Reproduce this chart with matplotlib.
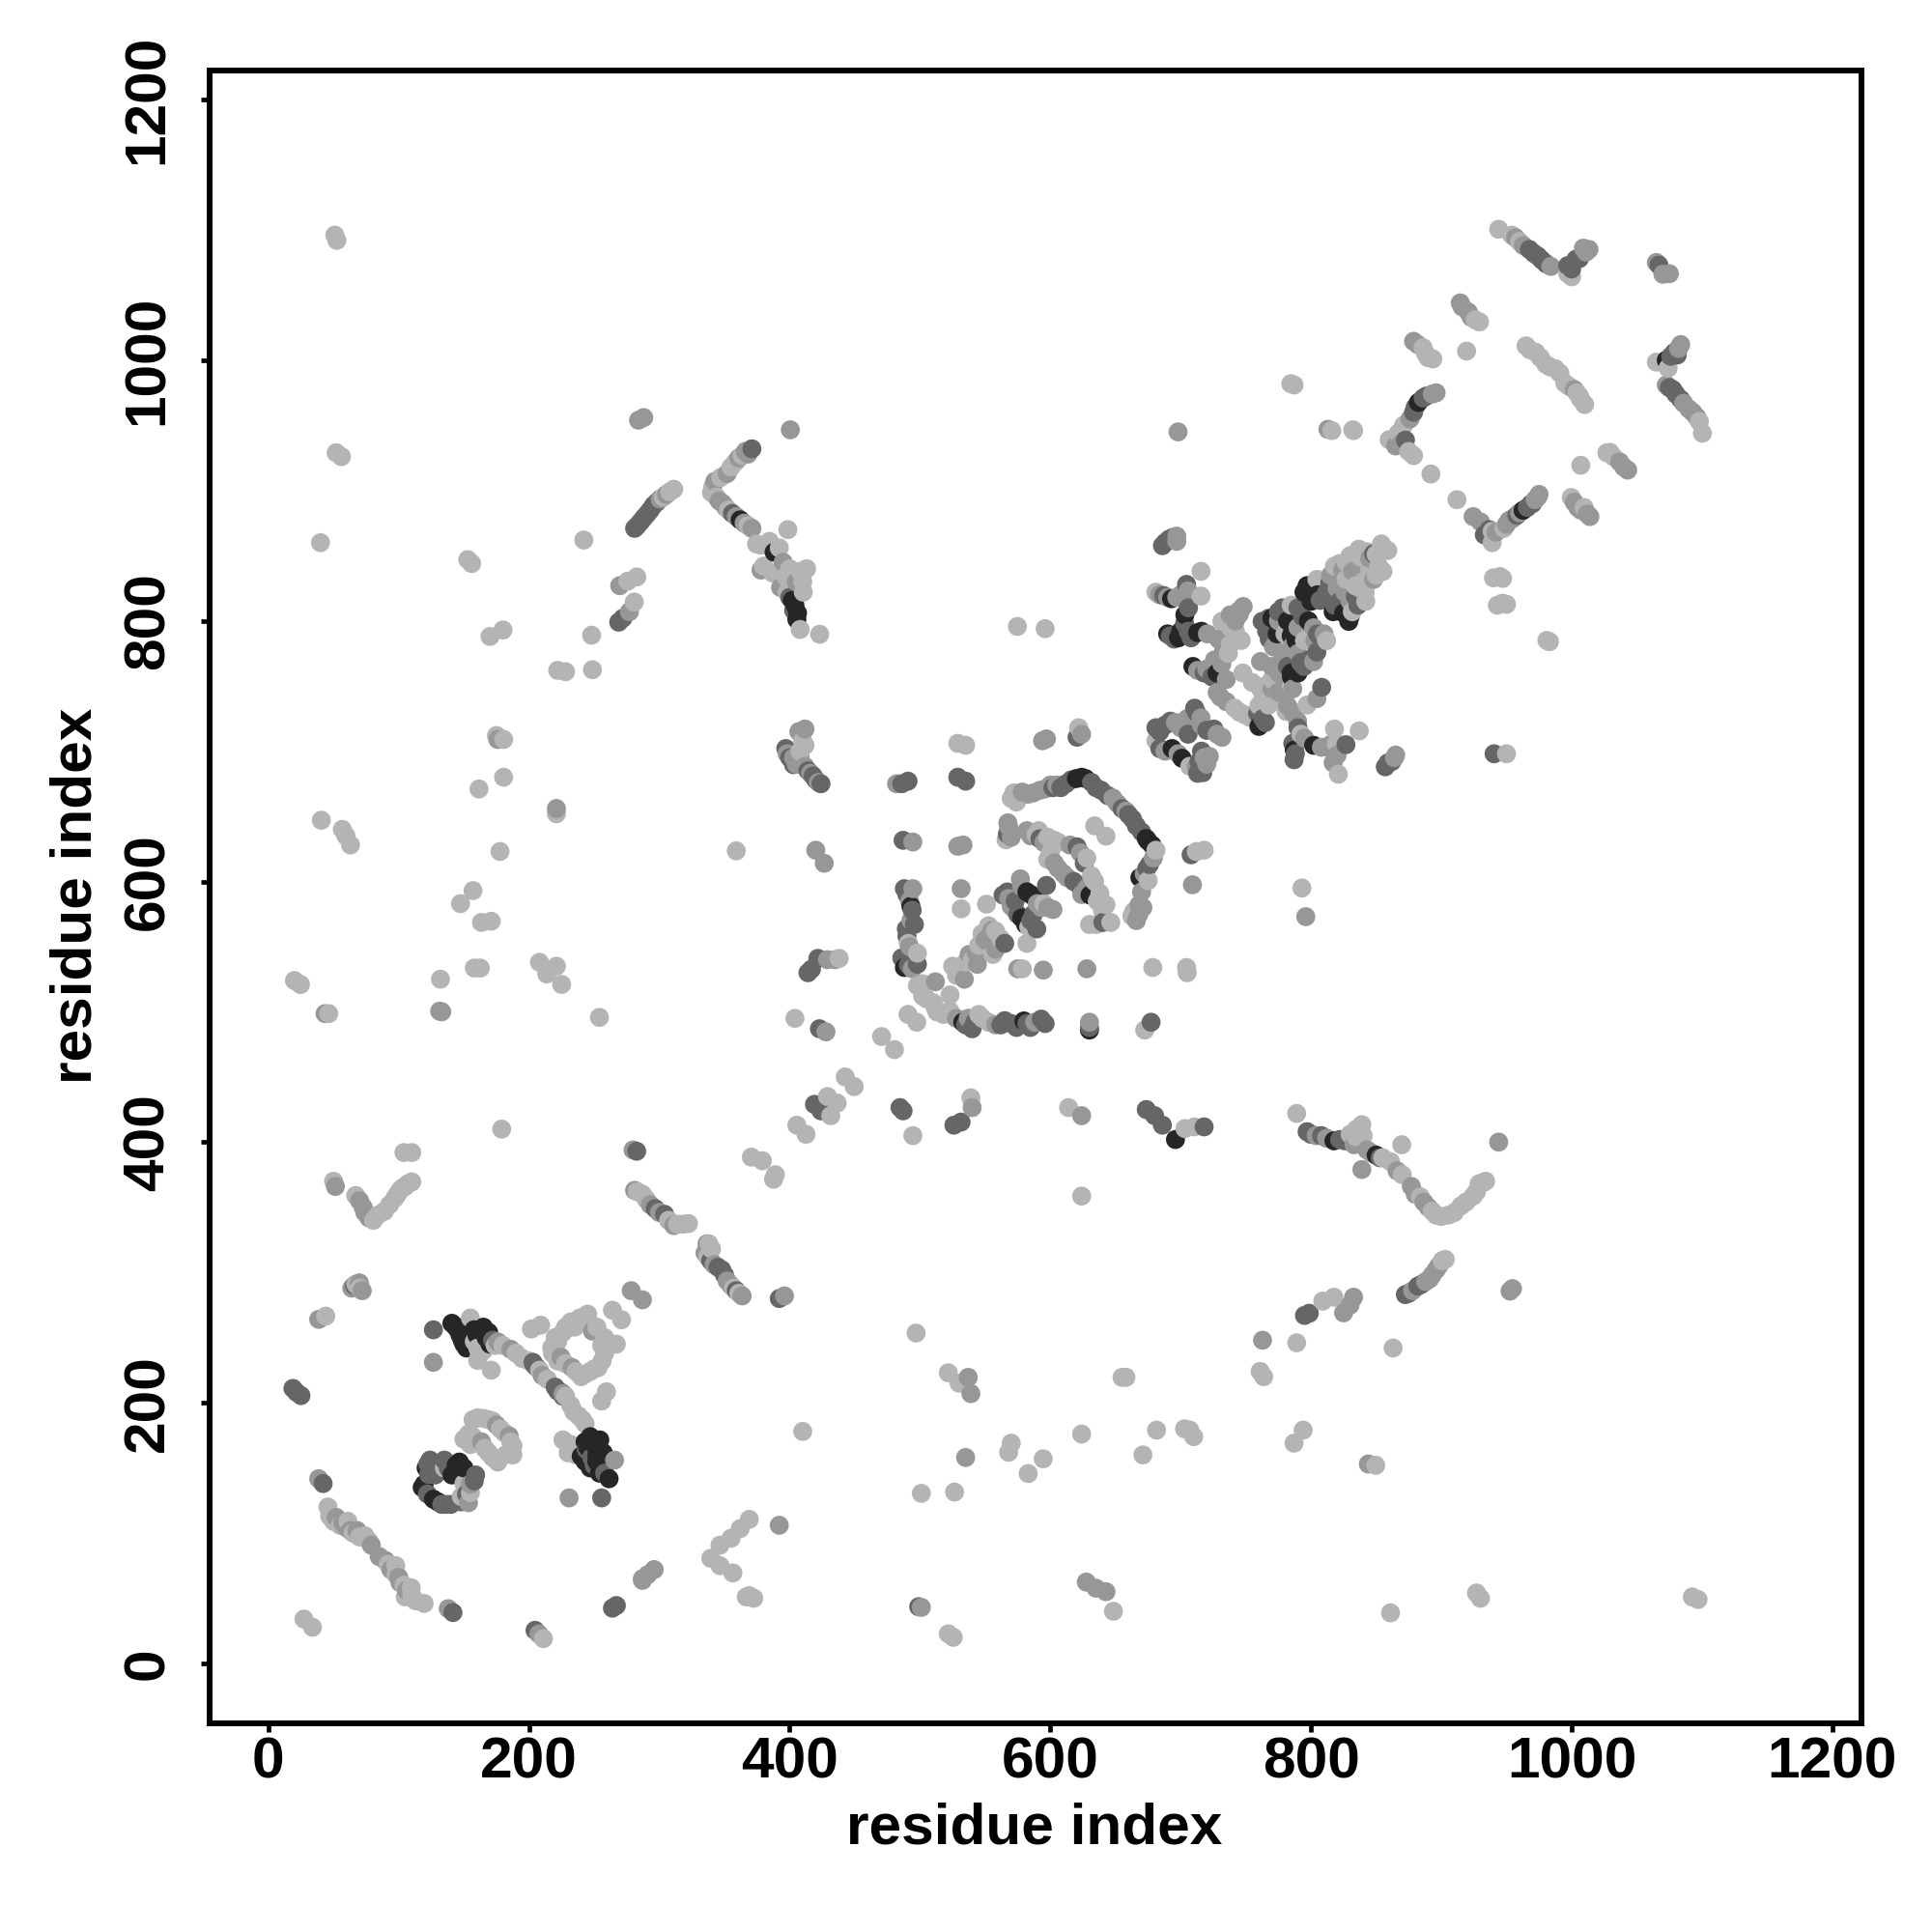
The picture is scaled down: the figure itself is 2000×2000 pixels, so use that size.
import matplotlib
matplotlib.use("Agg")
import matplotlib.pyplot as plt
import numpy as np

plt.rcParams['font.family'] = ['Liberation Sans', 'DejaVu Sans']
plt.rcParams['font.weight'] = 'bold'

# contacts, one list per grey level (residue i, residue j)
black_pts = [
    (261.4,141.7),
    (140.8,261),(145,256.6),(148.7,248),(152,242),(157.8,256),(169,254),(170,245),(254.3,171.5),(247,174),
    (243,170),(257,161.6),(240,159),(247,150),(126.6,126),(119.5,137.5),(146.5,154.5),(140.8,144.6),
    (362,877.5),(388,852.7),(402,815.7),(405.5,801),
    (488,534),(532.8,492),(579.7,493),(630,486),(582,592),(588.4,587),(581,567),(624,680),(673.6,633),
    (668.7,603),(630.4,589.6),(701,694.6),(693.4,702),(696,402),(493,581),
    (693,817),(703.2,804.6),(698.3,787),(713,791),(709.4,765),(728,760),(760,719),(784.8,788.5),(788.5,785),
    (784.8,760),(787.2,700.8),(802,704.5),(797,827),(794.6,822),(817,807),(829,799.6),
    (1072.6,1000),(882.4,967.6),(962.7,884.8),(817.6,401),(850,390),
    (143,259),(147,252),(150,245),(155,260),(160,252),(165,258),(167,250),
    (245,166),(250,168),(252,160),(252,155),(256,150),(254,146),(243,155),(121,150),(118,135),(130,124),(150,150),(144,152),
    (770,802),(782,800),(798,800),(786,792),(790,760),(785,757),(774,790),(825,806),(830,803),(800,815),(805,820),
    (690,790),(700,792),(716,792),(620,679),(627,679),(675,631),(678,628),(404,812),(406,806),(585,590),(578,572),
]
dark_pts = [
    (126.6,256),(204,229),(206,227),(222,209),(224.5,208),(255.7,127),(122.3,153),(128,144.6),(136.5,122),
    (159,144.6),(135,156),(18.8,211),(21.6,208),(25,205.5),(42,138),(141.6,39),(204.6,25.4),(267,44.4),
    (264,42.4),(282.6,393),(296.8,349),(304,344.6),(339.4,309),(347.9,302),(359,286),(392,280),(66,290),
    (268.8,799),(272,802),(281,871),(285.6,876),(290.6,882),(295.5,888.6),(371,932),(356,882.4),
    (397,702),(403,689.6),(418,681),(424,675),(421.6,541),(416.7,532.7),(414,530),(422.8,487),(490.8,677),
    (486,675),(535,677),(529,680),(620.5,710.7),(487,631.6),(488,594.5),(495.7,567),(489.5,563.6),(498,536.5),
    (486,541.4),(540,487),(565,493.2),(593,494.4),(584.7,488),(630,488),(677.3,492),(419,429),(424,424),
    (484.6,426.5),(487,424),(531.5,415.4),(526,413),(673.6,425),(680,420.3),(686,413),(718,411.7),(563.7,589.6),
    (597,597),(575,574.7),(589.6,563.6),(565,552.5),(602,672),(612,675),(631.6,676),(644,666),(660,651.4),
    (666,642.7),(676,613),(640.3,568.6),(567,636.5),(592,632.8),(620.5,626.6),(622,597),(681,718),(692,723),
    (717,683.5),(710.7,733),(705.7,713),(725.5,717),(708,620.5),(686,857.7),(691,862.6),(687,819.4),(704.5,828),
    (692,788.5),(705.7,792),(718,760),(759,729),(762.5,799.6),(767.5,802),(775,807),(793.4,803.4),(804.5,776),
    (794.6,765),(808.2,749),(787,693.4),(826.8,705),(859,691),(807,815.7),(814.4,829.3),(848,851.5),(834,819),
    (967.6,1085),(974,1080),(980.4,1074),(997,1072.6),(1003.4,1077.6),(1078.8,1006),(1077.6,977.5),(1083.7,970),
    (888.5,972.5),(878.7,960),(872.5,938.7),(936.7,870),(933,866),(968.8,889.7),(940.5,698),(938,869),
    (798.7,268.7),(795,267),(499,43.5),(808,405),(797,408),(872.4,283),(882,289.5),(1067,1073),
    (123,145),(122,130),(133,122),(140,122),(148,124),(152,130),(158,140),(138,150),(132,148),(126,150),(124,156),
    (172,248),(203,231),(220,212),(226,205),(244,164),(248,158),(258,146),(250,152),(283,873),(288,879),(293,885),
    (298,891),(345,304),(350,298),(400,818),(403,808),(400,695),(414,685),(420,678),(490,590),(494,578),(490,558),
    (491,536),(535,490),(542,492),(562,490),(570,491),(574,488),(582,491),(596,491),(567,592),(573,585),(585,570),
    (587,575),(608,672),(616,678),(635,672),(639,670),(655,656),(663,648),(670,638),(674,610),(626,614),(618,600),
    (684,715),(688,720),(712,730),(720,716),(684,702),(714,692),(716,700),(713,683),(778,810),(790,810),(805,790),
    (808,786),(798,770),(792,768),(782,765),(768,786),(766,792),(812,822),(818,812),(822,815),(836,812),(695,786),
    (708,787),(703,798),(706,810),(724,757),(763,725),(765,722),(790,718),(786,706),(788,698),(857,688),(862,692),
    (688,860),(694,864),(971,1082),(977,1077),(1000,1070),(1006,1078),(1076,1003),(1081,1004),(1080,974),(1075,979),
    (886,971),(880,964),(958,881),(966,887),(970,890),(822,402),(826,401),(800,406),(875,284),(885,291),(853,388),
]
mid_pts = [
    (265.6,156),
    (51.4,366),(72.7,350),(77,342),(69.8,292),(72,286),(64,288),(38.6,264),(126.6,231),(176,246.7),(186,241),
    (210,221),(226,207),(248.6,255),(224.5,235),(233,227),(278.4,286),(287,279),(230.7,127),
    (175,183),(184.8,174.4),(163.5,170),(153.5,123.3),(155,137.5),(38.6,141.7),(62.8,102),(79,90.7),(89.7,79),
    (101,62),(138,42),(207.5,22.6),(287,63.7),(291,68),(296,72),(279.8,394),(281,363),(311,336),(336.5,322),
    (352,293.5),(396,282),(363.5,282),(284,954),(288,956),(300.5,893.5),(305.4,897),(277,807),(269.6,827),
    (342.5,907),(348.7,890),(352,913),(371,871),(378,839),(393,825.6),(400.5,946.6),
    (411.7,717),(398,698),(408,696),(411.7,688.4),(420,624),(426.5,614),(429,540),(435,540),(427.8,484.6),
    (482,675),(597,709.4),(594,708),(624,713),(494.5,630.3),(533,628),(529,627),(494.5,594.5),(531.6,594.5),
    (511.8,523),(534,525),(537.7,544),(544,536.4),(555,562.4),(570,581),(577,602),(602,578.5),(593,580),
    (578.5,668.6),(592,670),(651.4,660),(670,592),(671,580),(666,570),(567.4,645),(582,639),(603,614.3),(613,603),
    (594.6,532),(628,533),(630,492),(715.6,725.5),(722,696),(731.7,710.6),(709,597.5),(540,426.5),(624,420.3),
    (697,865),(705.7,823),(720.5,790),(729,786),(731.6,767),(745,808),(738,804.6),(730.4,741.6),(775,745.3),
    (761.3,768.8),(770,765),(771.2,780),(778.6,772.5),(802,794.7),(802,768.8),(786,747.8),(804.5,740.3),
    (789.7,723),(812,703.2),(817,691),(865,697),(848,831.8),(824.3,839),
    (914.5,1044),(920.7,1037),(878.7,1014.5),(1013.3,1085),(1065,1075),(1075,1066.4),(1070,1066),(1083.7,1012),
    (1072.6,981),(1090,962.6),(1096,956.5),(896,975),(865,934.2),(975,897),(1004.7,887),(1014,880),(1036.8,922),
    (1043,915.7),(924.4,880),(1002,977.5),(955,878.6),(698,945),(813,947),(830,275),(825,269),(832.7,281),
    (762.8,248),(796,573),(844,153),(535,158),(537,219.5),(539,207),(627.6,62.4),(635,57.7),(642.7,55),(501,43),
    (952.7,285.7),(954.6,287.6),(839,379),(877,366),(886.6,354),(891,295),(896,302),(944,400),(392,106),(43.5,498.6),
    (131.4,500.5),(133,500),(176,709),(221,656),(575,533),
    (52,112),(57,108),(60,104),(68,102),(85,82),(94,72),(100,66),(106,56),(70,355),(74,346),(293,352),(300,346),(335,315),
    (342,306),(355,290),(366,930),(368,928),(361,925),(346,892),(351,887),(359,880),(365,875),(395,845),(405,830),
    (403,695),(407,715),(405,690),(416,683),(422,676),(492,585),(493,570),(492,550),(494,533),(528,495),(537,495),
    (558,490),(588,492),(543,546),(550,555),(553,558),(558,548),(568,587),(578,596),(590,583),(598,580),(573,578),
    (583,667),(587,668),(596,671),(600,674),(605,674),(648,664),(658,654),(679,618),(672,606),(668,582),(668,575),
    (568,642),(570,634),(585,635),(595,630),(615,628),(623,622),(606,610),(610,606),(624,590),(628,595),(696,722),(700,718),
    (705,725),(716,720),(728,713),(688,700),(698,698),(712,688),(718,695),(720,690),(775,800),(790,795),(785,780),(810,790),
    (803,785),(790,775),(775,760),(780,755),(832,838),(838,842),(845,848),(826,822),(820,825),(830,815),(815,835),(826,838),
    (684,820),(690,818),(700,820),(697,818),(733,778),(726,770),(720,763),(713,762),(735,755),(728,745),(735,738),(770,748),
    (779,746),(782,735),(786,730),(795,710),(808,703),(815,705),(820,697),(745,805),(742,800),(748,811),(864,695),(697,861),
    (957,1094),(963,1088),(984,1072),(1011,1083),(1009,1086),(916,1041),(923,1033),(882,1012),(1082,1009),(1086,967),(1093,960),
    (893,974),(876,955),(869,936),(950,874),(952,877),(960,883),(972,893),(974,895),(1002,891),(1007,885),(1012,882),(1040,918),
    (930,876),(942,868),(804,405),(812,403),(833,398),(843,394),(846,392),(866,378),(880,360),(890,350),(878,286),(888,293),
    (893,298),(898,305),(287,65),
]
light_pts = [
    (104,392),(110,392),(50,370),(179,410),(67,359),(80.6,340),(89,347),(97,357),(101,363),(105,366),(110,369.5),
    (67,291),(70,288),(44,266.5),(155,265),(160.6,232.5),(171,225),(160.6,242),(194.7,234),(234.4,193),(243,184),
    (201.8,256.6),(208.9,259.5),(226,254),(217.4,242.4),(240,220),(247,224),(253,227),(238.7,265),(245,268),
    (255.7,244),(267,245),(264,271),(271,263.7),(259.4,208.4),(255.7,201.3),(226,171.5),(230,161.6),
    (160.6,188.5),(169,187),(187.6,167),(187.6,160),(176,154.5),(169,161.6),(153.5,176),(45.7,120),(50,109),
    (61,109),(74,98),(97.7,75),(109.6,58),(105,51),(119.5,46),(27.3,34),(33.8,27.7),(211,19),(287,360),(322.3,337.5),
    (369,52),(366.7,51),(372.4,50),(369,110.5),(362,103.4),(355,96),(346.5,90.7),(339.4,80.7),(346.5,75),(356.4,69.4),
    (370.6,388.5),(379,385.7),(387.6,371.5),(389,375),
    (51,1096),(52.5,1092),(52,929),(56,926),(40,860),(153,847),(156,844),(242,862),(248,789),(170,788),(180,793),
    (222,762),(228,761),(248.6,762.5),(311,901),(275.8,830.5),(282.7,833.7),(280.7,814.4),(363.5,927),(358.5,922),
    (340,898.5),(343.7,895),(374.6,859),(384.5,861),(398.6,870),(387,836.7),(397,834),(413,840),(402,833),
    (410.4,822),(408,793.4),(423,789.7),
    (175,712),(180.5,709),(161.6,671),(180.5,680),(40.6,647),(56.7,640),(59.5,635),(63,628),(177.7,623),(221,652),
    (157,593),(147.4,583),(163.5,568.6),(171,569.5),(158,533.6),(162.6,533.6),(20,524),(24.6,521),(46.3,498.6),
    (132,525),(208,538),(213.6,529),(221,535),(225,521),(254,495.7),(359,623.5),(404,495),
    (411.7,704.5),(438,541),(535,704.5),(529,706),(621.7,718),(491,552.5),(498,545),(502,521.6),(523,513),(502,512),
    (511.8,503),(523,500.6),(545,498),(552.6,492),(490.8,498),(497.5,492),(470.5,481),(480.4,471),(442.6,450),(449.5,442.6),
    (429,435),(436.4,430),(431.5,420.3),(405.5,413),(412.5,406),(494.5,405),(539,434),(614,426.5),(703.3,410.4),(710.7,411.7),
    (531.6,579),(551,582.6),(578.5,533),(678.6,534),(704.5,534),(705,530),(672.4,486),(525,535),(547.6,560),(545,551),
    (556,544),(552.6,566),(582,552.5),(583.4,565),(570,663.7),(681,624),(675,600.7),(662.5,573.5),(646.4,568.6),(635.3,567),
    (591,639),(603,631.6),(628,618),(598,617),(631.6,604.4),(638,591),(642.7,582.2),(634,642.7),(642.7,634.8),(681,708),
    (707,688.4),(712,623),(718,624),(715.6,838),(715.6,819),(681,822),(736.6,775),(746.5,785),(731.6,799.6),(747.7,760),
    (755,752.7),(761.3,747.8),(741.5,733),(749,728),(767.5,735.4),(785,750),(784.8,812),(812,784.8),(770,740.3),(797,735.4),
    (781,730.5),(792.2,713),(819.4,705.8),(818,717),(837,715.6),(821,682.3),(804.5,831.8),(822,844),(836.7,855),(854,859),
    (858.9,854),(855.2,838),(834,826.8),(826.8,831.8),(831.7,807),(841.6,822),(912,893),(940,833),(943,812),
    (944,1100.5),(954,1096),(960,1091),(997,1066.5),(1000,1064),(886,1009.6),(893.5,1001),(889.8,1002),(919.4,1007),
    (965,1011),(972.5,1006),(980,997),(987.4,993.5),(994.8,982.4),(1006,972.5),(1010,966),(1065,998.5),(1100.3,944),
    (871,950),(860,939),(878.7,926.8),(892,912.7),(832,946.6),(939,868.7),(939,860),(948,871),(999.7,894.7),(1009.6,887),
    (1007,919.4),(1027,929),(1029.4,929.3),(929.3,1029.4),(945,834),(784.5,982),(787,981),(832.7,946),(816,946),
    (981,785),(983,784),(947,813.6),(950,812.7),(947,832.6),(574.7,795.7),(596,794),(950,698),(793,595),(789,422),
    (830,406),(839,413.4),(834.6,404),(869.6,398),(861,385),(896,344),(905.5,344),(915,351),(924.4,358.6),(929,368),(934,370),
    (900.7,309),(863,242),(809,278),(817.6,281),(789,246),(761,224),(763.7,220),(794,179),(787,169),(849.7,152),
    (655,219.5),(658,219.5),(521.7,223),(530,215),(497,253.5),(570,169),(568,162),(594.5,157),(583,145.7),(526.5,131.5),
    (501,130.5),(624,176),(671,160),(681.5,179),(707,179),(710,174),(703,180),(410,178),(648.4,40),(521.7,22.7),(525.5,20),
    (861,38.8),(927,54),(930,50),(1092.6,51),(1097,49),(624,358.6),
    (155,131),(150,138),(148,128),(135,150),(157,187),(165,188),(172,186),(178,180),(181,177),(186,170),(182,160),(172,158),
    (166,165),(157,174),(150,172),(155,168),(158,247),(162,237),(165,240),(174,244),(180,244),(190,238),(200,232),(208,225),
    (214,218),(228,205),(232,198),(238,190),(241,187),(220,250),(222,247),(218,238),(222,232),(228,230),(236,224),(243,222),
    (250,226),(256,232),(258,238),(262,245),(258,250),(252,258),(246,262),(242,266),(232,262),(235,258),(228,258),(232,168),
    (236,160),(47,113),(55,106),(65,100),(70,97),(77,94),(92,76),(98,68),(104,60),(110,52),(113,48),(84,344),(93,352),(99,360),
    (103,365),(107,368),(283,362),(290,356),(307,340),(314,337),(318,337),(337,312),(340,318),(338,322),(357,288),(361,284),
    (303,895),(308,899),(355,918),(347,910),(341,903),(353,885),(368,873),(378,858),(380,842),(392,856),(400,840),(410,830),
    (408,838),(398,822),(410,708),(408,700),(498,520),(505,510),(510,507),(513,500),(518,498),(525,497),(548,495),(528,528),
    (530,532),(535,538),(540,540),(547,552),(562,556),(558,562),(595,583),(572,668),(574,661),(664,577),(566,632),(589,636),
    (598,634),(606,630),(600,622),(634,600),(636,585),(640,578),(638,568),(630,567),(780,790),(795,785),(770,755),(765,750),
    (775,745),(827,845),(830,850),(838,849),(845,840),(850,835),(852,842),(838,825),(842,815),(840,830),(818,842),(738,782),
    (742,792),(745,730),(753,726),(760,735),(763,740),(738,795),(850,851),(843,853),(968,1008),(976,1002),(983,995),(991,990),
    (998,980),(1004,975),(1007,970),(888,1005),(926,1031),(1098,953),(1074,994),(867,944),(875,930),(1032,926),(840,405),
    (835,410),(855,388),(870,375),(884,358),(893,347),(900,343),(910,346),(919,354),(927,362),(932,369),(903,310),
]
tick_vals = [0,200,400,600,800,1000,1200]

groups = [(black_pts,0.15),(dark_pts,0.40),(mid_pts,0.59),(light_pts,0.705)]
xy = np.vstack([np.array(p) for p,g in groups])
shade = np.concatenate([np.full(len(p),g) for p,g in groups])
# residue order: higher i is drawn over lower i, as in the reference
order = np.lexsort((xy[:,1],xy[:,0]))

fig = plt.figure(figsize=(20,20), dpi=100)
ax = fig.add_axes([0.1083,0.108,0.8552,0.8557])

ax.scatter(xy[order,0],xy[order,1],s=200,c=shade[order],cmap='gray',vmin=0,vmax=1,linewidths=0,zorder=2)

ax.set_xlim(-45.4,1222.4)
ax.set_ylim(-46,1222.6)
ax.set_xticks(tick_vals)
ax.set_yticks(tick_vals)

for s in ax.spines.values():
    s.set_linewidth(4.3)
ax.tick_params(length=6.5,width=3.4,labelsize=43.5,pad=3)
ax.tick_params(axis='y',pad=19)
plt.setp(ax.get_yticklabels(),rotation=90,va='center')
for lab in ax.get_xticklabels()+ax.get_yticklabels():
    lab.set_fontweight('bold')

fig.text(0.5355,0.0535,'residue index',ha='center',va='center',fontsize=43.5,fontweight='bold')
fig.text(0.0395,0.5365,'residue index',ha='center',va='center',rotation=90,fontsize=43.5,fontweight='bold')

fig.savefig('out.png',dpi=100)
